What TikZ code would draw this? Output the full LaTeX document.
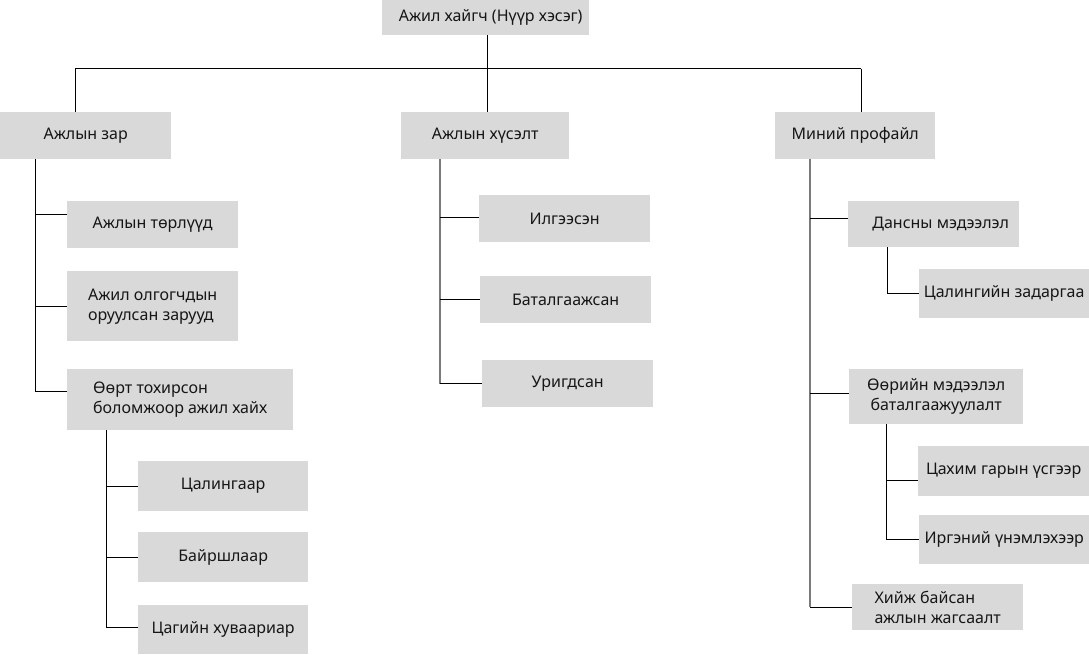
\documentclass[tikz,border=0pt]{standalone}
\usepackage{fontspec}
\setmainfont{Noto Sans}
\definecolor{boxgray}{HTML}{D9D9D9}
\definecolor{textc}{HTML}{161616}
\definecolor{spinegray}{HTML}{7A7A7A}
\tikzset{
  box/.style={fill=boxgray, inner sep=0pt, anchor=north west, text=textc,
    font=\fontsize{16}{20}\selectfont, align=center},
  ln/.style={draw=black, line width=1pt},
  gln/.style={draw=spinegray, line width=1.4pt},
}
\begin{document}
\begin{tikzpicture}[x=1pt,y=-1pt]
\useasboundingbox[fill=white] (0,0) rectangle (1089,655);
% level 0
\node[box, minimum width=207pt, minimum height=35pt] (root) at (382,0) {\hspace*{10pt}Ажил хайгч (Нүүр хэсэг)};
% level 1
\node[box, minimum width=171pt, minimum height=47pt] (zar) at (0,112) {Ажлын зар};
\node[box, minimum width=168pt, minimum height=47pt] (hus) at (401,112) {Ажлын хүсэлт};
\node[box, minimum width=160pt, minimum height=47pt] (prof) at (775,112) {Миний профайл};
% Ажлын зар children
\node[box, minimum width=171pt, minimum height=47pt] (t1) at (67,201) {Ажлын төрлүүд};
\node[box, minimum width=171pt, minimum height=70pt, align=left] (t2) at (67,271) {Ажил олгогчдын\\оруулсан зарууд};
\node[box, minimum width=226pt, minimum height=61pt, align=left] (t3) at (67,369) {Өөрт тохирсон\\боломжоор ажил хайх};
\node[box, minimum width=170pt, minimum height=50pt] (c1) at (138,461) {Цалингаар};
\node[box, minimum width=170pt, minimum height=50pt] (c2) at (138,532) {Байршлаар};
\node[box, minimum width=170pt, minimum height=49pt] (c3) at (138,605) {Цагийн хуваариар};
% Ажлын хүсэлт children
\node[box, minimum width=171pt, minimum height=47pt] (h1) at (479,195) {Илгээсэн};
\node[box, minimum width=171pt, minimum height=47pt] (h2) at (480,276) {Баталгаажсан};
\node[box, minimum width=171pt, minimum height=47pt] (h3) at (482,360) {Уригдсан};
% Миний профайл children
\node[box, minimum width=171pt, minimum height=46pt] (p1) at (848,201) {\hspace*{14pt}Дансны мэдээлэл};
\node[box, minimum width=170pt, minimum height=49pt] (p1a) at (919,269) {Цалингийн задаргаа};
\node[box, minimum width=174pt, minimum height=55pt] (p2) at (849,369) {Өөрийн мэдээлэл\\баталгаажуулалт};
\node[box, minimum width=171pt, minimum height=50pt] (p2a) at (918,446) {Цахим гарын үсгээр};
\node[box, minimum width=170pt, minimum height=49pt] (p2b) at (919,515) {Иргэний үнэмлэхээр};
\node[box, minimum width=171pt, minimum height=46pt, align=left] (p3) at (852,584) {Хийж байсан\\ажлын жагсаалт};

% top connectors
\coordinate (hub) at (487,69);
\coordinate (b1) at (75,69);
\coordinate (b3) at (861,69);
\draw[ln] (root.south -| hub) -- (hub);
\draw[ln] (b1) -- (b3);
\draw[ln] (b1) -- (b1 |- zar.north);
\draw[ln] (hub) -- (hub |- hus.north);
\draw[ln] (b3) -- (b3 |- prof.north);

% spine x positions
\coordinate (x1) at (35,0);
\coordinate (x2) at (106,0);
\coordinate (x3) at (440,0);
\coordinate (x4) at (810,0);
\coordinate (x5) at (887,0);
\coordinate (x6) at (886,0);

% Ажлын зар
\coordinate (t1c) at ([yshift=10.5pt]t1.west);
\coordinate (t2c) at (t2.west);
\coordinate (t3c) at ([yshift=8.5pt]t3.west);
\draw[ln] (zar.south -| x1) |- (t3c);
\draw[ln] (t1c -| x1) -- (t1c);
\draw[ln] (t2c -| x1) -- (t2c);

% Өөрт тохирсон
\coordinate (c1c) at (c1.west);
\coordinate (c2c) at (c2.west);
\coordinate (c3c) at ([yshift=2.5pt]c3.west);
\draw[ln] (t3.south -| x2) |- (c3c);
\draw[ln] (c1c -| x2) -- (c1c);
\draw[ln] (c2c -| x2) -- (c2c);

% Ажлын хүсэлт
\coordinate (h1c) at ([yshift=1.5pt]h1.west);
\coordinate (h2c) at (h2.west);
\coordinate (h3c) at (h3.west);
\draw[gln] (hus.south -| x3) -- (h3c -| x3);
\draw[ln] (h1c -| x3) -- (h1c);
\draw[ln] (h2c -| x3) -- (h2c);
\draw[ln] (h3c -| x3) -- (h3c);

% Миний профайл
\coordinate (p1c) at ([yshift=6pt]p1.west);
\coordinate (p2c) at ([yshift=3.5pt]p2.west);
\coordinate (p3c) at (p3.west);
\draw[gln] (prof.south -| x4) -- (p3c -| x4);
\draw[ln] (p1c -| x4) -- (p1c);
\draw[ln] (p2c -| x4) -- (p2c);
\draw[ln] (p3c -| x4) -- (p3c);

% Дансны мэдээлэл
\draw[ln] (p1.south -| x5) |- (p1a.west);

% Өөрийн мэдээлэл
\coordinate (p2ac) at ([yshift=-9pt]p2a.west);
\draw[ln] (p2.south -| x6) |- (p2b.west);
\draw[ln] (p2ac -| x6) -- (p2ac);
\end{tikzpicture}
\end{document}
